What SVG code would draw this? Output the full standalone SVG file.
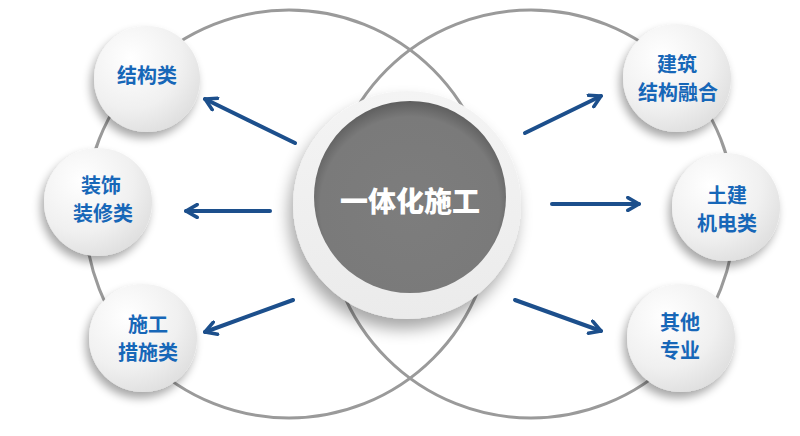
<svg xmlns="http://www.w3.org/2000/svg" width="800" height="436" viewBox="0 0 800 436">
<style>
.arc{fill:none;stroke:#9a9a9a;stroke-width:3}
.node{fill:url(#nodeGrad);filter:url(#shadow)}
.lbl{font-family:"Noto Sans CJK SC","Noto Sans",sans-serif;font-weight:700;font-size:20px;fill:#1767b8;text-anchor:middle}
.arrow{fill:none;stroke:#1c4f8c;stroke-width:4;stroke-linecap:round;marker-end:url(#head)}
.title{font-family:"Noto Sans CJK SC","Noto Sans",sans-serif;font-weight:900;font-size:28px;fill:#ffffff;text-anchor:middle}
</style>
<defs>
<radialGradient id="nodeGrad" cx="0.35" cy="0.3" r="0.8">
<stop offset="0" stop-color="#ffffff"/>
<stop offset="0.6" stop-color="#f0f0f0"/>
<stop offset="1" stop-color="#dcdcdc"/>
</radialGradient>
<linearGradient id="ringGrad" x1="0" y1="0" x2="0" y2="1">
<stop offset="0" stop-color="#f4f4f4"/>
<stop offset="1" stop-color="#ebebeb"/>
</linearGradient>
<radialGradient id="coreGrad" cx="0.5" cy="0.55" r="0.55">
<stop offset="0" stop-color="#7d7d7d"/>
<stop offset="0.85" stop-color="#7a7a7a"/>
<stop offset="1" stop-color="#5e5e5e"/>
</radialGradient>
<filter id="shadow" x="-40%" y="-40%" width="180%" height="180%">
<feGaussianBlur in="SourceAlpha" stdDeviation="5"/>
<feOffset dx="-3" dy="6" result="b"/>
<feComponentTransfer><feFuncA type="linear" slope="0.35"/></feComponentTransfer>
<feMerge><feMergeNode/><feMergeNode in="SourceGraphic"/></feMerge>
</filter>
<filter id="bigShadow" x="-40%" y="-40%" width="180%" height="180%">
<feGaussianBlur in="SourceAlpha" stdDeviation="8"/>
<feOffset dx="-4" dy="10"/>
<feComponentTransfer><feFuncA type="linear" slope="0.35"/></feComponentTransfer>
<feMerge><feMergeNode/><feMergeNode in="SourceGraphic"/></feMerge>
</filter>
<marker id="head" viewBox="0 0 10 10" refX="8" refY="5" markerWidth="4" markerHeight="4" orient="auto" markerUnits="strokeWidth">
<polyline points="1,1 8,5 1,9" fill="none" stroke="#1c4f8c" stroke-width="2.2" stroke-linecap="round" stroke-linejoin="round"/>
</marker>
</defs>
<rect width="800" height="436" fill="#ffffff"/>
<g id="rings">
<circle class="arc" cx="289" cy="214" r="204"/>
<circle class="arc" cx="531" cy="214" r="204"/>
</g>
<g id="connectors">
<line class="arrow" x1="295" y1="143" x2="205" y2="99"/>
<line class="arrow" x1="270" y1="211" x2="186" y2="211"/>
<line class="arrow" x1="293" y1="300" x2="205" y2="332"/>
<line class="arrow" x1="525" y1="133" x2="601" y2="96"/>
<line class="arrow" x1="552" y1="204" x2="639" y2="204"/>
<line class="arrow" x1="515" y1="300" x2="601" y2="331"/>
</g>
<g id="center">
<circle cx="407" cy="205" r="114" fill="url(#ringGrad)" filter="url(#bigShadow)"/>
<circle cx="410" cy="197" r="96" fill="url(#coreGrad)"/>
<text class="title" x="410" y="212">一体化施工</text>
</g>
<g id="node-jiegou">
<circle class="node" cx="147" cy="79" r="53"/>
<text class="lbl" x="147" y="83">结构类</text>
</g>
<g id="node-zhuangshi">
<circle class="node" cx="98" cy="202" r="54"/>
<text class="lbl" x="101" y="193">装饰</text>
<text class="lbl" x="103" y="221">装修类</text>
</g>
<g id="node-shigong">
<circle class="node" cx="143" cy="338" r="54"/>
<text class="lbl" x="148" y="332">施工</text>
<text class="lbl" x="148" y="360">措施类</text>
</g>
<g id="node-jianzhu">
<circle class="node" cx="677" cy="78" r="54"/>
<text class="lbl" x="677" y="72">建筑</text>
<text class="lbl" x="678" y="100">结构融合</text>
</g>
<g id="node-tujian">
<circle class="node" cx="726" cy="207" r="54"/>
<text class="lbl" x="727" y="203">土建</text>
<text class="lbl" x="727" y="231">机电类</text>
</g>
<g id="node-qita">
<circle class="node" cx="681" cy="338" r="54"/>
<text class="lbl" x="680" y="330">其他</text>
<text class="lbl" x="680" y="358">专业</text>
</g>
</svg>
